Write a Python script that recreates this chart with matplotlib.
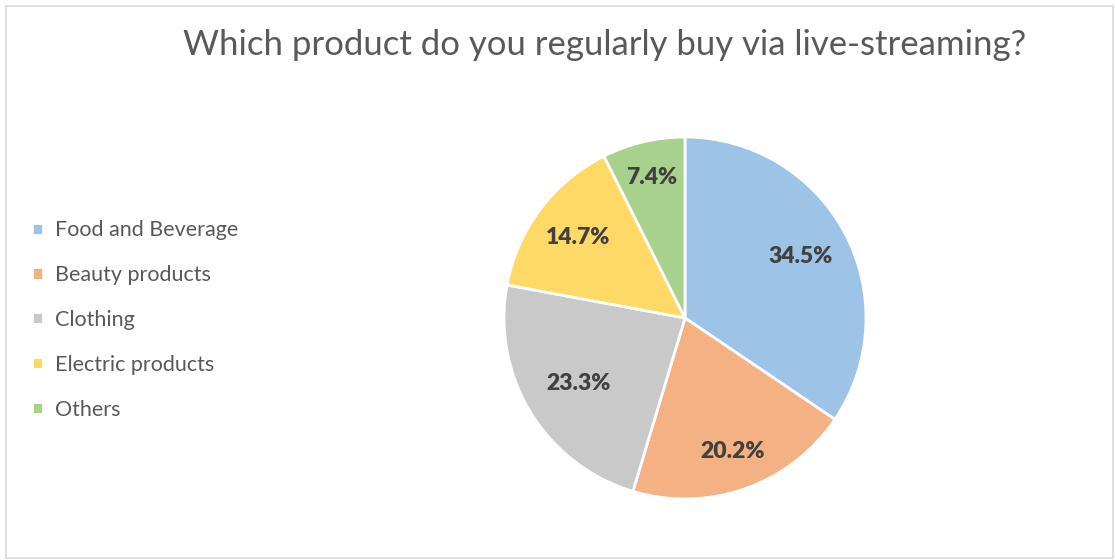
import matplotlib
matplotlib.use("Agg")
import matplotlib.pyplot as plt
from matplotlib.patches import Rectangle
import numpy as np

categories = ["Food and Beverage", "Beauty products", "Clothing", "Electric products", "Others"]
values = [34.5, 20.2, 23.3, 14.7, 7.4]
colors = ["#9DC3E6", "#F4B183", "#C9C9C9", "#FFD966", "#A9D18E"]
title = "Which product do you regularly buy via live-streaming?"
label_dist = [0.72, 0.785, 0.69, 0.74, 0.80]

W, H = 1115, 560
fig = plt.figure(figsize=(W / 100, H / 100), dpi=100)
fig.patch.set_facecolor("white")

# outer frame
fig.patches.append(Rectangle((6 / W, 2 / H), (1113 - 6) / W, (554 - 2) / H,
                             transform=fig.transFigure, fill=False,
                             edgecolor="#D9D9D9", linewidth=1.2))

cx, cy, r = 685, 318, 181
ax = fig.add_axes([(cx - r) / W, (H - cy - r) / H, 2 * r / W, 2 * r / H])
wedges, texts, autotexts = ax.pie(
    values, colors=colors, startangle=90, counterclock=False,
    autopct=lambda p: f"{p:.1f}%", pctdistance=0.72,
    wedgeprops=dict(edgecolor="white", linewidth=2),
    textprops=dict(fontsize=16.5, fontweight="heavy", color="#404040", family="Lato"))
for w, t, d in zip(wedges, autotexts, label_dist):
    ang = np.deg2rad((w.theta1 + w.theta2) / 2)
    t.set_position((d * np.cos(ang), d * np.sin(ang)))
ax.set_xlim(-1, 1)
ax.set_ylim(-1, 1)
ax.set_aspect("equal")
ax.axis("off")

fig.text(605 / W, 1 - 45 / H, title, ha="center", va="center",
         fontsize=25, color="#595959", family="Lato")

leg = fig.legend(wedges, categories, loc="center left",
                 bbox_to_anchor=(13 / W, 1 - 320 / H),
                 frameon=False, labelspacing=1.15,
                 handlelength=0.5, handleheight=0.5, handletextpad=0.55,
                 prop=dict(family="Lato", size=15.5))
for t in leg.get_texts():
    t.set_color("#595959")

fig.savefig("out.png", dpi=100, facecolor="white")
